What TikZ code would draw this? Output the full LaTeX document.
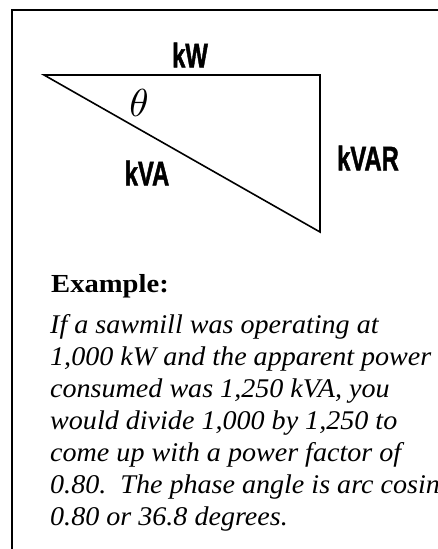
\documentclass[tikz,border=0pt]{standalone}
\usepackage{fontspec}
\setmainfont{Liberation Serif}
\newfontfamily\condfont[FakeStretch=0.7,FakeBold=1.2]{Liberation Sans}
\newfontfamily\bodyfont[FakeStretch=1.04]{Liberation Serif}
\newfontfamily\headfont[FakeStretch=1.1]{Liberation Serif}
\begin{document}
\begin{tikzpicture}[x=1pt,y=-1pt,
    side/.style={font=\condfont\bfseries\fontsize{34}{34}\selectfont},
    body/.style={anchor=base west,inner sep=0pt,font=\bodyfont\itshape\fontsize{27}{32}\selectfont}]
    \useasboundingbox (0,0) rectangle (438,549);
    \clip (0,0) rectangle (438,549);
    \draw[line width=2.5pt] (12,570) -- (12,10) -- (460,10);
    % power triangle
    \coordinate (A) at (44,75);
    \coordinate (B) at (320,75);
    \coordinate (C) at (320,232);
    \draw[line width=1.6pt, line join=miter] (A) -- (B) -- (C) -- cycle;
    \node[side] (kw) at (190,55) {kW};
    \node[side] (kva) at (147,173) {kVA};
    \node[side] (kvar) at (368,158) {kVAR};
    \node (theta) at (139,103) {\scalebox{3.9}{$\theta$}};
    % example text
    \node[anchor=base west,inner sep=0pt,font=\headfont\bfseries\fontsize{26}{30}\selectfont] (ex) at (51,292) {Example:};
    \node[body] (l1) at (50,333) {If a sawmill was operating at};
    \node[body] (l2) at (50,365) {1,000 kW and the apparent power};
    \node[body] (l3) at (50,397) {consumed was 1,250 kVA, you};
    \node[body] (l4) at (50,429) {would divide 1,000 by 1,250 to};
    \node[body] (l5) at (50,461) {come up with a power factor of};
    \node[body] (l6) at (50,493) {0.80.\ \ The phase angle is arc cosine};
    \node[body] (l7) at (50,525) {0.80 or 36.8 degrees.};
\end{tikzpicture}
\end{document}
